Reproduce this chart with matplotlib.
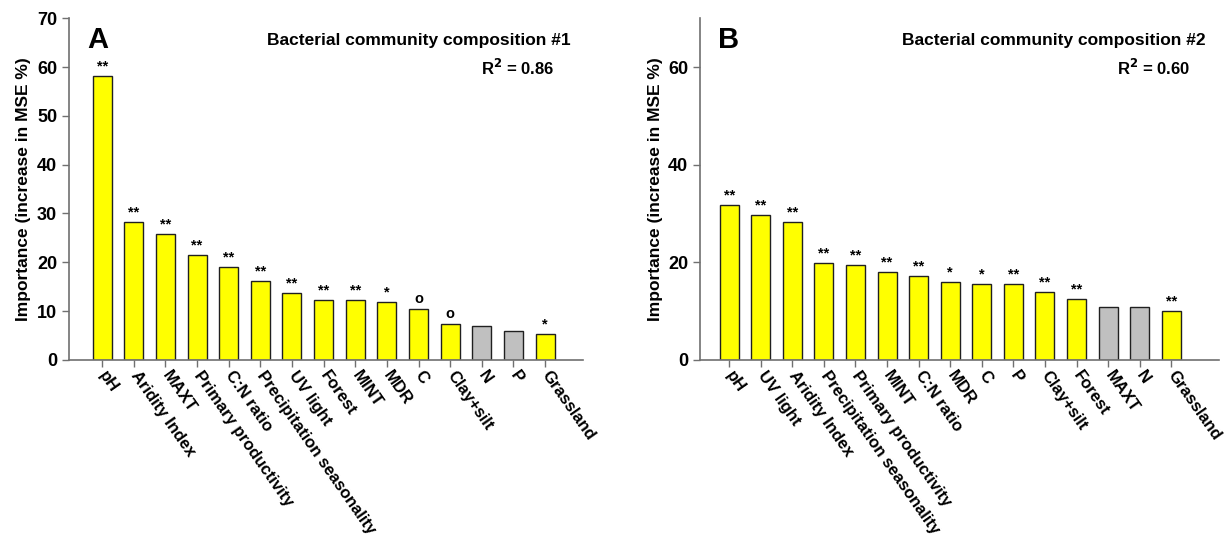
import matplotlib.pyplot as plt

plt.rcParams['font.family'] = ['Liberation Sans', 'DejaVu Sans']
plt.rcParams['font.weight'] = 'bold'

# Panel A: bacterial community composition #1
labels_a = ['pH', 'Aridity Index', 'MAXT', 'Primary productivity', 'C:N ratio',
            'Precipitation seasonality', 'UV light', 'Forest', 'MINT', 'MDR',
            'C', 'Clay+silt', 'N', 'P', 'Grassland']
values_a = [58.1, 28.3, 25.8, 21.5, 19.1, 16.1, 13.7, 12.3, 12.2, 11.9,
            10.5, 7.4, 6.9, 5.9, 5.3]
signif_a = ['**', '**', '**', '**', '**', '**', '**', '**', '**', '*',
            'o', 'o', '', '', '*']

# Panel B: bacterial community composition #2
labels_b = ['pH', 'UV light', 'Aridity Index', 'Precipitation seasonality',
            'Primary productivity', 'MINT', 'C:N ratio', 'MDR', 'C', 'P',
            'Clay+silt', 'Forest', 'MAXT', 'N', 'Grassland']
values_b = [31.8, 29.7, 28.2, 19.8, 19.4, 18.0, 17.2, 15.9, 15.5, 15.5,
            14.0, 12.4, 10.9, 10.8, 10.1]
signif_b = ['**', '**', '**', '**', '**', '**', '**', '*', '*', '**',
            '**', '**', '', '', '**']

YELLOW = '#FFFF00'
GREY = '#C0C0C0'
AXIS = '#707070'

fig = plt.figure(figsize=(12.31, 5.52), dpi=100)
ax_a = fig.add_axes([0.056, 0.348, 0.4176, 0.619])
ax_b = fig.add_axes([0.5687, 0.348, 0.4213, 0.619])


def draw_panel(ax, labels, values, signif, letter, title, r2, yticks, xlim):
    x = list(range(len(values)))
    colors = [YELLOW if s else GREY for s in signif]
    ax.bar(x, values, width=0.6, color=colors, edgecolor='#202020', linewidth=1.0)
    for xi, v, s in zip(x, values, signif):
        if s:
            ax.text(xi, v + 0.5, s, ha='center', va='bottom', fontsize=10.5,
                    fontweight='bold')
    ax.set_xlim(*xlim)
    ax.set_ylim(0, 70)
    ax.set_yticks(yticks)
    ax.set_xticks(x)
    ax.set_xticklabels(labels, rotation=-55, ha='left', va='center',
                       rotation_mode='anchor', fontsize=12, fontweight='bold')
    ax.tick_params(axis='y', labelsize=13, color=AXIS, length=5, width=1)
    ax.tick_params(axis='x', color=AXIS, length=5, width=1, pad=4)
    for t in ax.get_yticklabels():
        t.set_fontweight('bold')
    for side in ['top', 'right']:
        ax.spines[side].set_visible(False)
    for side in ['left', 'bottom']:
        ax.spines[side].set_color(AXIS)
        ax.spines[side].set_linewidth(1.2)
    ax.set_ylabel('Importance (increase in MSE %)', fontsize=12.5,
                  fontweight='bold', labelpad=4)
    ax.text(0.035, 0.935, letter, transform=ax.transAxes, fontsize=21,
            fontweight='bold', ha='left', va='center')
    ax.text(0.975, 0.935, title, transform=ax.transAxes, fontsize=12.5,
            fontweight='bold', ha='right', va='center')
    ax.text(0.945, 0.855, r'R$^\mathbf{2}$ = ' + r2, transform=ax.transAxes,
            fontsize=12, fontweight='bold', ha='right', va='center')


draw_panel(ax_a, labels_a, values_a, signif_a, 'A',
           'Bacterial community composition #1', '0.86',
           [0, 10, 20, 30, 40, 50, 60, 70], (-1.05, 15.2))
draw_panel(ax_b, labels_b, values_b, signif_b, 'B',
           'Bacterial community composition #2', '0.60',
           [0, 20, 40, 60], (-0.92, 15.5))

fig.savefig('out.png', dpi=100)
